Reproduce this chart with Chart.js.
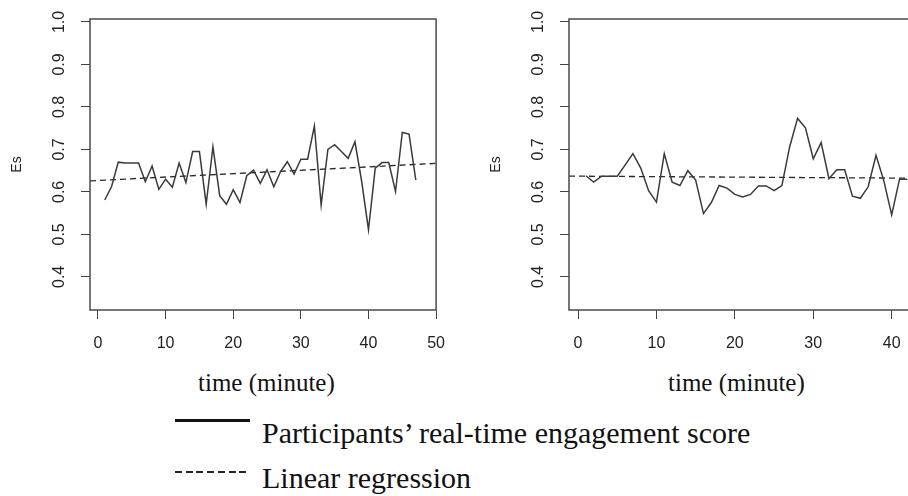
<!DOCTYPE html>
<html>
<head>
<meta charset="utf-8">
<script src="https://cdn.jsdelivr.net/npm/chart.js@4.4.1/dist/chart.umd.min.js"></script>
<style>
  body { margin: 0; width: 908px; height: 496px; overflow: hidden; position: relative; background: #fff; }
  .plot { position: absolute; top: 0; }
  .serif { position: absolute; font-family: "Liberation Serif", "Times New Roman", serif; color: #111; white-space: nowrap; }
  .xtitle { font-size: 25px; line-height: 25px; top: 370px; }
  .leg { font-size: 30px; line-height: 30px; left: 262px; }
  .sample { position: absolute; left: 175px; width: 75px; }
</style>
</head>
<body>
<canvas id="left" class="plot" width="460" height="360" style="left:0"></canvas>
<canvas id="right" class="plot" width="460" height="360" style="left:479px"></canvas>

<div class="serif xtitle" style="left:198px">time (minute)</div>
<div class="serif xtitle" style="left:668px">time (minute)</div>

<div class="sample" style="top:419px;height:3px;background:#111"></div>
<div class="serif leg" style="top:418px">Participants’ real-time engagement score</div>
<div class="sample" style="top:471px;height:2px;background:repeating-linear-gradient(to right,#222 0 7px,transparent 7px 10.7px)"></div>
<div class="serif leg" style="top:463px">Linear regression</div>

<script>
// left panel: engagement score per minute
const leftMinutes = [1, 2, 3, 4, 5, 6, 7, 8, 9, 10, 11, 12, 13, 14, 15, 16, 17, 18, 19, 20,
                     21, 22, 23, 24, 25, 26, 27, 28, 29, 30, 31, 32, 33, 34, 35, 36, 37, 38, 39, 40,
                     41, 42, 43, 44, 45, 46, 47];
const leftScores = [0.581, 0.612, 0.670, 0.668, 0.668, 0.668, 0.624, 0.661, 0.606, 0.630,
                    0.611, 0.668, 0.622, 0.695, 0.695, 0.571, 0.706, 0.591, 0.571, 0.605,
                    0.575, 0.638, 0.651, 0.620, 0.652, 0.612, 0.648, 0.671, 0.642, 0.677,
                    0.677, 0.755, 0.569, 0.700, 0.711, 0.695, 0.679, 0.718, 0.624, 0.511,
                    0.656, 0.669, 0.669, 0.601, 0.740, 0.736, 0.628];
const leftFit = { intercept: 0.627, slope: 0.0008 };

// right panel
const rightMinutes = [1, 2, 3, 4, 5, 6, 7, 8, 9, 10, 11, 12, 13, 14, 15, 16, 17, 18, 19, 20,
                      21, 22, 23, 24, 25, 26, 27, 28, 29, 30, 31, 32, 33, 34, 35, 36, 37, 38, 39, 40,
                      41, 42];
const rightScores = [0.638, 0.623, 0.637, 0.637, 0.637, 0.663, 0.690, 0.656, 0.603, 0.576,
                     0.690, 0.623, 0.615, 0.650, 0.628, 0.549, 0.575, 0.615, 0.609, 0.594,
                     0.588, 0.594, 0.614, 0.614, 0.603, 0.615, 0.707, 0.773, 0.751, 0.678,
                     0.716, 0.631, 0.652, 0.652, 0.590, 0.585, 0.612, 0.686, 0.626, 0.546,
                     0.630, 0.630];
const rightFit = { intercept: 0.637, slope: -0.00011 };

const yTicks = [0.4, 0.5, 0.6, 0.7, 0.8, 0.9, 1.0];
const xStep = 10;

Chart.defaults.font.family = '"Liberation Sans", Arial, sans-serif';
Chart.defaults.color = '#222';

// R style frame around the plot region
const frame = {
  id: 'frame',
  afterDraw(chart) {
    const a = chart.chartArea, ctx = chart.ctx;
    ctx.save();
    ctx.strokeStyle = '#4a4a4a';
    ctx.lineWidth = 1.5;
    ctx.strokeRect(a.left, a.top, a.right - a.left, a.bottom - a.top);
    ctx.restore();
  }
};

// vertical y tick labels (R default las=0)
const yLabels = {
  id: 'yLabels',
  afterDraw(chart) {
    const s = chart.scales.y, ctx = chart.ctx;
    ctx.save();
    ctx.font = '16px "Liberation Sans", Arial, sans-serif';
    ctx.fillStyle = '#222';
    ctx.textAlign = 'center';
    ctx.textBaseline = 'middle';
    yTicks.forEach(v => {
      ctx.save();
      ctx.translate(s.right - 30, s.getPixelForValue(v));
      ctx.rotate(-Math.PI / 2);
      ctx.fillText(v.toFixed(1), 0, 0);
      ctx.restore();
    });
    ctx.restore();
  }
};

function makePanel(id, minutes, scores, fit, xMin, xMax) {
  const series = minutes.map((m, i) => ({ x: m, y: scores[i] }));
  const trend = [xMin, xMax].map(m => ({ x: m, y: fit.intercept + fit.slope * m }));
  return new Chart(document.getElementById(id), {
    type: 'line',
    data: {
      datasets: [
        { label: 'Participants’ real-time engagement score', data: series,
          borderColor: '#3a3a3a', borderWidth: 1.5, pointRadius: 0, tension: 0 },
        { label: 'Linear regression', data: trend,
          borderColor: '#2a2a2a', borderWidth: 1.3, borderDash: [6, 4], pointRadius: 0 }
      ]
    },
    options: {
      responsive: false,
      animation: false,
      layout: { padding: { top: 19, right: 23, left: 0, bottom: 0 } },
      plugins: { legend: { display: false }, tooltip: { enabled: false } },
      scales: {
        x: {
          type: 'linear', min: xMin, max: xMax,
          ticks: { stepSize: xStep, includeBounds: false, maxRotation: 0, padding: 15,
                   font: { size: 16 }, color: '#222' },
          grid: { drawOnChartArea: false, tickLength: 9, color: '#444' },
          border: { display: false },
          afterFit: s => { s.height = 50; }
        },
        y: {
          min: 0.322, max: 1.007,
          ticks: { stepSize: 0.1, includeBounds: false, display: false },
          grid: { drawOnChartArea: false, tickLength: 9, color: '#444' },
          border: { display: false },
          title: { display: true, text: 'Es', font: { size: 14 }, color: '#222', padding: { top: 9, bottom: 0 } },
          afterFit: s => { s.width = 90; }
        }
      }
    },
    plugins: [frame, yLabels]
  });
}

makePanel('left', leftMinutes, leftScores, leftFit, -1.18, 50);
makePanel('right', rightMinutes, rightScores, rightFit, -1.15, 43.1);
</script>
</body>
</html>
